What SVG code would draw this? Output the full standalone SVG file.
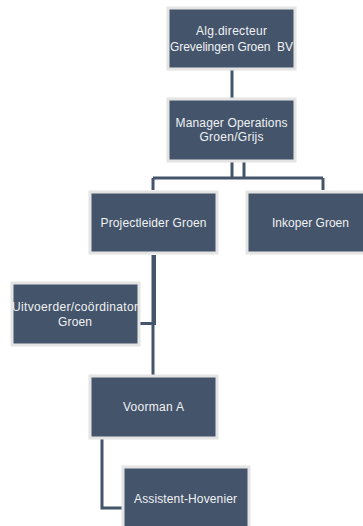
<svg xmlns="http://www.w3.org/2000/svg" width="363" height="526" viewBox="0 0 363 526">
<style>
.box{fill:#44546a;stroke:#e4e4e4;stroke-width:3}
.lbl{font-family:"Liberation Sans",Arial,sans-serif;font-size:12px;fill:#f0f2f4;text-anchor:middle}
.con{fill:none;stroke:#44546a;stroke-width:3}
</style>
<rect width="363" height="526" fill="#ffffff"/>
<g id="connectors">
<path class="con" d="M232 70V98"/>
<path class="con" d="M232 162V178M244 162V178"/>
<path class="con" d="M153 178H323M153 178V190M323 178V190"/>
<path class="con" d="M154.5 255V323.5H140"/>
<path class="con" d="M153 255V375"/>
<path class="con" d="M102 439V508H122"/>
</g>
<g id="n1">
<rect class="box" x="168" y="8" width="127" height="61"/>
<text class="lbl" x="231.5" y="35" textLength="71">Alg.directeur</text>
<text class="lbl" x="231.5" y="51" textLength="123" xml:space="preserve">Grevelingen Groen  BV</text>
</g>
<g id="n2">
<rect class="box" x="168" y="99" width="127" height="62"/>
<text class="lbl" x="231.5" y="127" textLength="112">Manager Operations</text>
<text class="lbl" x="231.5" y="141" textLength="64">Groen/Grijs</text>
</g>
<g id="n3">
<rect class="box" x="90" y="192" width="127" height="61"/>
<text class="lbl" x="153.5" y="227" textLength="106">Projectleider Groen</text>
</g>
<g id="n4">
<rect class="box" x="247" y="192" width="127" height="61"/>
<text class="lbl" x="310.5" y="227" textLength="77">Inkoper Groen</text>
</g>
<g id="n5">
<rect class="box" x="12" y="283" width="127" height="62"/>
<text class="lbl" x="75" y="311" textLength="126">Uitvoerder/coördinator</text>
<text class="lbl" x="75" y="326" textLength="34">Groen</text>
</g>
<g id="n6">
<rect class="box" x="90" y="376" width="127" height="62"/>
<text class="lbl" x="153.5" y="411" textLength="61">Voorman A</text>
</g>
<g id="n7">
<rect class="box" x="123" y="467" width="126" height="64"/>
<text class="lbl" x="185.5" y="503" textLength="103">Assistent-Hovenier</text>
</g>
</svg>
